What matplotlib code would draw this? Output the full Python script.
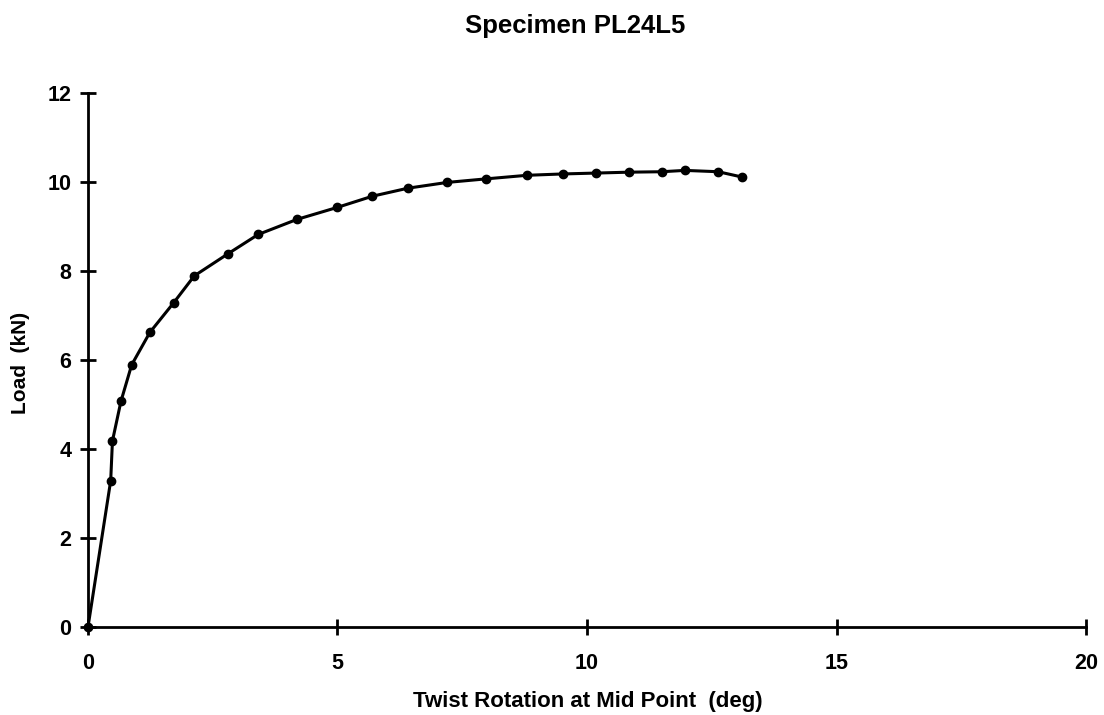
import matplotlib.pyplot as plt

plt.rcParams['font.family'] = ['Liberation Sans', 'DejaVu Sans']
plt.rcParams['font.weight'] = 'bold'

# Twist rotation at mid point (deg) vs applied load (kN)
rotation = [0.0, 0.455, 0.49, 0.66, 0.875, 1.24, 1.72, 2.13, 2.81, 3.41,
            4.19, 5.0, 5.70, 6.41, 7.20, 7.98, 8.80, 9.51, 10.18, 10.84,
            11.50, 11.96, 12.63, 13.11]
load = [0.0, 3.29, 4.18, 5.07, 5.89, 6.62, 7.29, 7.89, 8.39, 8.82,
        9.16, 9.43, 9.68, 9.86, 9.99, 10.07, 10.15, 10.18, 10.20, 10.22,
        10.23, 10.26, 10.23, 10.11]

x_ticks = [0, 5, 10, 15, 20]
y_ticks = [0, 2, 4, 6, 8, 10, 12]

fig = plt.figure(figsize=(11.04, 7.15), dpi=100)
ax = fig.add_axes([0.0797, 0.123, 0.904, 0.747])

ax.plot(rotation, load, color='black', lw=2.2, marker='o', ms=6,
        clip_on=False, zorder=3)

ax.set_xlim(0, 20)
ax.set_ylim(0, 12)
ax.set_xticks(x_ticks)
ax.set_yticks(y_ticks)

for side in ('top', 'right'):
    ax.spines[side].set_visible(False)
for side in ('left', 'bottom'):
    ax.spines[side].set_linewidth(2.0)

ax.tick_params(direction='inout', length=12, width=2, labelsize=15.5)
ax.tick_params(axis='x', pad=13)
ax.tick_params(axis='y', pad=6)
for lbl in ax.get_xticklabels() + ax.get_yticklabels():
    lbl.set_fontweight('bold')

fig.text(0.5326, 0.0112, 'Twist Rotation at Mid Point  (deg)', fontsize=16,
         fontweight='bold', ha='center', va='baseline')
fig.text(0.019, 0.492, 'Load  (kN)', fontsize=15, fontweight='bold',
         rotation=90, ha='center', va='center')
fig.text(0.521, 0.9538, 'Specimen PL24L5', fontsize=18.5, fontweight='bold',
         ha='center', va='baseline')

fig.savefig('out.png', dpi=100)
